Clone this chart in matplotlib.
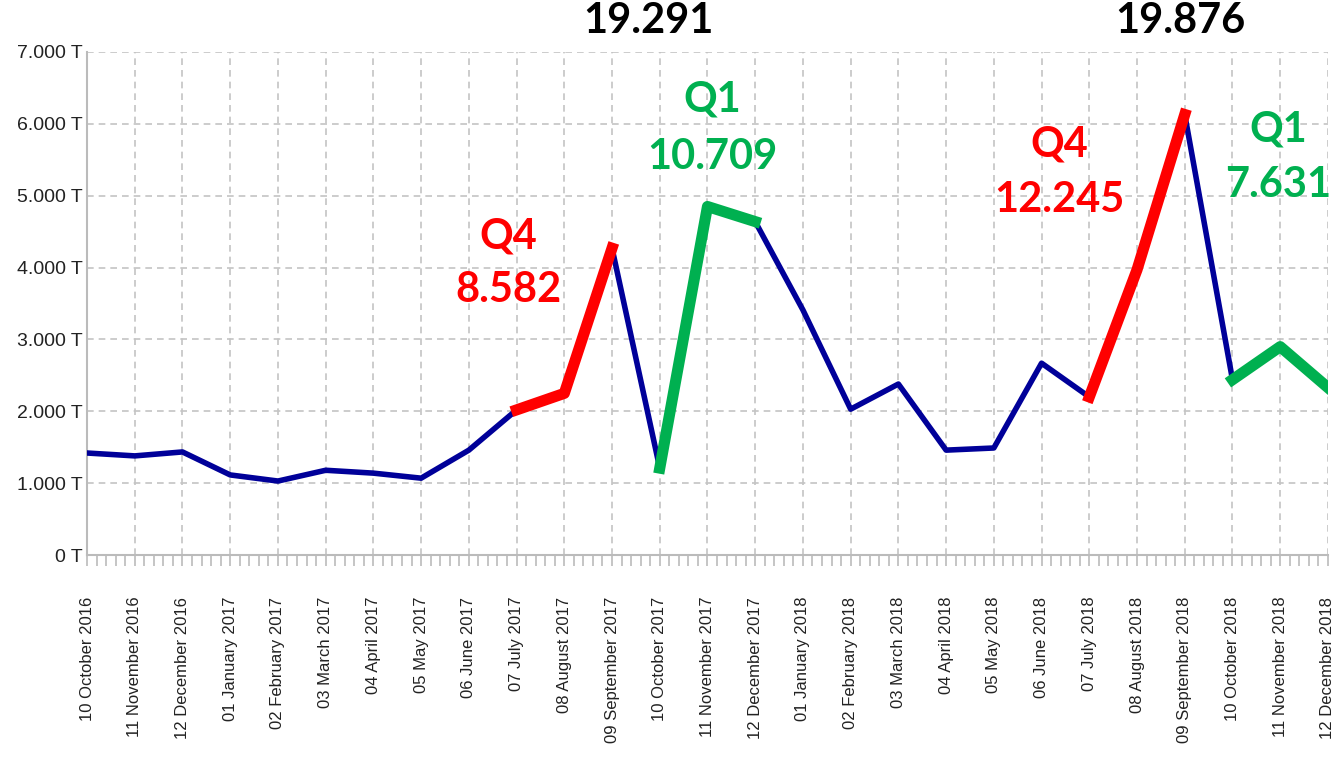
import matplotlib.pyplot as plt
from matplotlib.ticker import MultipleLocator, FuncFormatter

months = ['10 October 2016', '11 November 2016', '12 December 2016', '01 January 2017',
          '02 February 2017', '03 March 2017', '04 April 2017', '05 May 2017',
          '06 June 2017', '07 July 2017', '08 August 2017', '09 September 2017',
          '10 October 2017', '11 November 2017', '12 December 2017', '01 January 2018',
          '02 February 2018', '03 March 2018', '04 April 2018', '05 May 2018',
          '06 June 2018', '07 July 2018', '08 August 2018', '09 September 2018',
          '10 October 2018', '11 November 2018', '12 December 2018']
values = [1420, 1380, 1435, 1115, 1030, 1180, 1140, 1070, 1460, 2020, 2250, 4270,
          1210, 4850, 4640, 3410, 2030, 2380, 1460, 1490, 2670, 2200, 3970, 6130,
          2440, 2900, 2330]
# highlighted quarters: (start index, end index)
red_q = [(9, 11), (21, 23)]
green_q = [(12, 14), (24, 26)]

x = list(range(len(months)))

fig = plt.figure(figsize=(13.35, 7.84), dpi=100)
ax = fig.add_axes([0.0652, 0.292, 0.9295, 0.6417])

ax.plot(x, values, color='#000099', lw=4, zorder=3)
for a, b in red_q:
    ax.plot(x[a:b + 1], values[a:b + 1], color='#ff0000', lw=8, zorder=4)
for a, b in green_q:
    ax.plot(x[a:b + 1], values[a:b + 1], color='#00b050', lw=8, zorder=4)

ax.set_xlim(0, len(months) - 1)
ax.set_ylim(0, 7000)
ax.yaxis.set_major_locator(MultipleLocator(1000))
ax.yaxis.set_major_formatter(FuncFormatter(lambda v, p: '0 T' if v == 0 else f'{int(v):,} T'.replace(',', '.')))
ax.set_xticks(x)
ax.set_xticklabels(months, rotation=90, family='Liberation Sans', fontsize=12, color='#222222')
ax.xaxis.set_minor_locator(MultipleLocator(0.2))
for lab in ax.get_yticklabels():
    lab.set_family('Liberation Sans')
    lab.set_fontsize(14)
    lab.set_color('#222222')

ax.grid(True, color='#c4c4c4', linestyle=(0, (4, 3)), lw=1.2)
ax.tick_params(axis='x', which='both', color='#bbbbbb', length=8, width=1.2, pad=22)
ax.tick_params(axis='y', color='#bbbbbb', length=0, pad=3)
for s in ['top', 'right']:
    ax.spines[s].set_visible(False)
for s in ['left', 'bottom']:
    ax.spines[s].set_color('#bbbbbb')
    ax.spines[s].set_linewidth(1.5)

tf = dict(family='Lato', fontweight='bold', fontsize=30, ha='center', va='center', clip_on=False)
ax.text(11.77, 7430, '19.291', color='black', **tf)
ax.text(22.9, 7430, '19.876', color='black', **tf)
ax.text(13.1, 6340, 'Q1', color='#00b050', **tf)
ax.text(13.1, 5540, '10.709', color='#00b050', **tf)
ax.text(8.83, 4430, 'Q4', color='#ff0000', **tf)
ax.text(8.83, 3690, '8.582', color='#ff0000', **tf)
ax.text(20.38, 5710, 'Q4', color='#ff0000', **tf)
ax.text(20.38, 4940, '12.245', color='#ff0000', **tf)
ax.text(24.95, 5920, 'Q1', color='#00b050', **tf)
ax.text(24.95, 5150, '7.631', color='#00b050', **tf)

fig.savefig('out.png', dpi=100)
